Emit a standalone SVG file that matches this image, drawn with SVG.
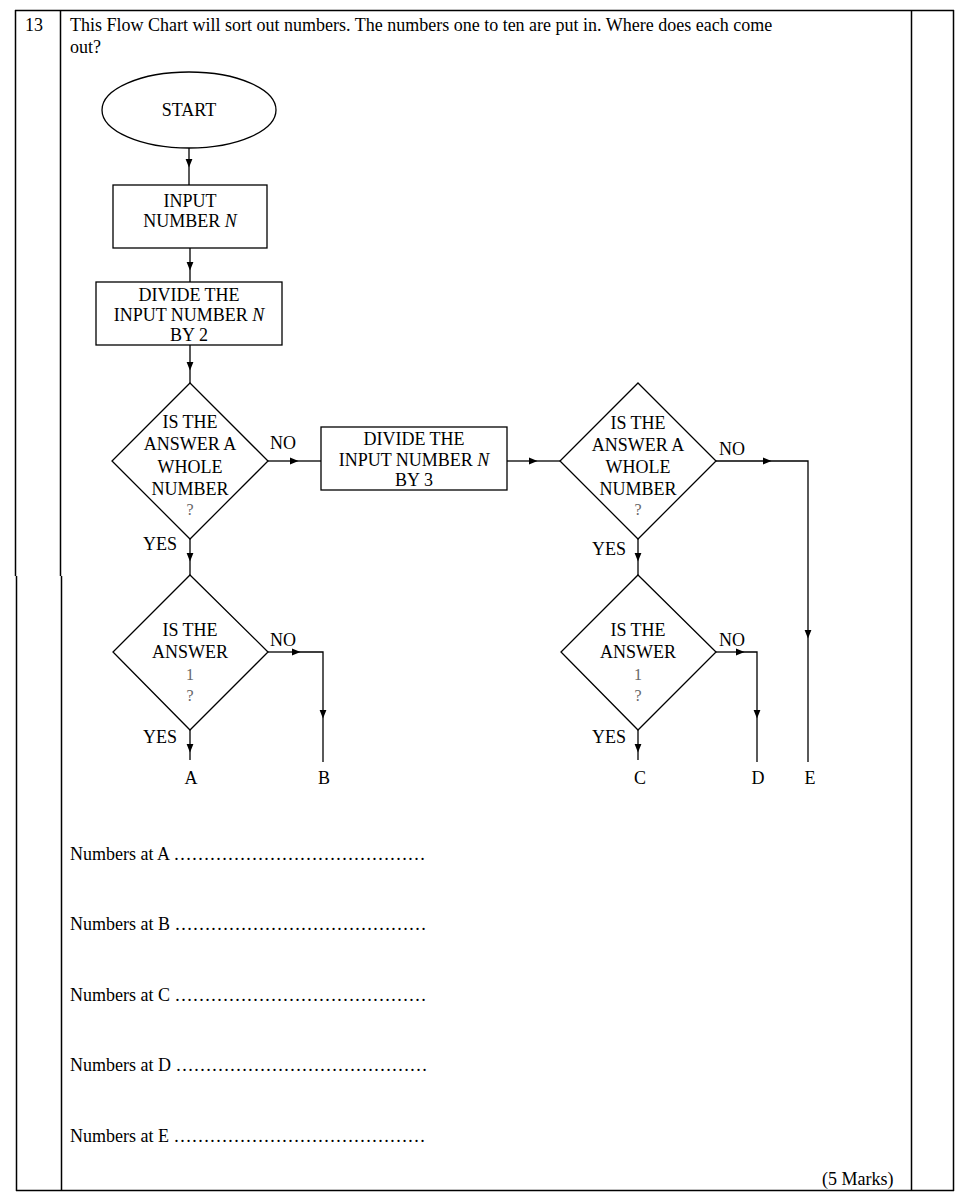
<svg xmlns="http://www.w3.org/2000/svg" width="969" height="1202" viewBox="0 0 969 1202">
<defs>
<marker id="ah" viewBox="0 0 10 10" refX="5" refY="5" markerWidth="9" markerHeight="9" markerUnits="userSpaceOnUse" orient="auto"><path d="M0,1 L10,5 L0,9 z" fill="#000"/></marker>
<style>
.t{font-family:"Liberation Serif",serif;font-size:18px;fill:#000}
.n{font-family:"Liberation Serif",serif;font-size:18px;fill:#000;text-anchor:middle}
.q{font-family:"Liberation Serif",serif;font-size:16px;fill:#666;text-anchor:middle}
.s{fill:#fff;stroke:#000;stroke-width:1.3}
.c{fill:none;stroke:#000;stroke-width:1.3}
.b{stroke:#000;stroke-width:1.5;fill:none}
</style>
</defs>
<rect width="969" height="1202" fill="#fff"/>
<g id="table">
<line class="b" x1="15" y1="10.5" x2="954" y2="10.5"/>
<line class="b" x1="16" y1="1190.5" x2="954" y2="1190.5"/>
<line class="b" x1="15.5" y1="10" x2="15.5" y2="576"/>
<line class="b" x1="16.5" y1="576" x2="16.5" y2="1191"/>
<line class="b" x1="60.5" y1="10" x2="60.5" y2="576"/>
<line class="b" x1="61.5" y1="576" x2="61.5" y2="1191"/>
<line class="b" x1="911.5" y1="10" x2="911.5" y2="1191"/>
<line class="b" x1="953.5" y1="10" x2="953.5" y2="1191"/>
</g>
<text class="t" x="25" y="31">13</text>
<text class="t" x="70" y="31">This Flow Chart will sort out numbers.  The numbers one to ten are put in. Where does each come</text>
<text class="t" x="70" y="53">out?</text>
<g id="connectors">
<polyline class="c" points="189,148 189,163" marker-end="url(#ah)"/><line class="c" x1="189" y1="163" x2="189" y2="185"/>
<polyline class="c" points="190,248 190,266" marker-end="url(#ah)"/><line class="c" x1="190" y1="266" x2="190" y2="282"/>
<polyline class="c" points="190,345 190,366" marker-end="url(#ah)"/><line class="c" x1="190" y1="366" x2="190" y2="383"/>
<polyline class="c" points="268,461 294,461" marker-end="url(#ah)"/><line class="c" x1="294" y1="461" x2="321" y2="461"/>
<polyline class="c" points="507,461 533,461" marker-end="url(#ah)"/><line class="c" x1="533" y1="461" x2="560" y2="461"/>
<polyline class="c" points="716,461 767,461" marker-end="url(#ah)"/><polyline class="c" points="767,461 808,461 808,634" marker-end="url(#ah)"/><line class="c" x1="808" y1="634" x2="808" y2="762"/>
<polyline class="c" points="190,539 190,557" marker-end="url(#ah)"/><line class="c" x1="190" y1="557" x2="190" y2="575"/>
<polyline class="c" points="638,539 638,557" marker-end="url(#ah)"/><line class="c" x1="638" y1="557" x2="638" y2="575"/>
<polyline class="c" points="268,652 296,652" marker-end="url(#ah)"/><polyline class="c" points="296,652 323,652 323,714" marker-end="url(#ah)"/><line class="c" x1="323" y1="714" x2="323" y2="762"/>
<polyline class="c" points="716,652 740,652" marker-end="url(#ah)"/><polyline class="c" points="740,652 757,652 757,714" marker-end="url(#ah)"/><line class="c" x1="757" y1="714" x2="757" y2="762"/>
<polyline class="c" points="190,730 190,748" marker-end="url(#ah)"/><line class="c" x1="190" y1="748" x2="190" y2="760"/>
<polyline class="c" points="638,730 638,748" marker-end="url(#ah)"/><line class="c" x1="638" y1="748" x2="638" y2="760"/>
</g>
<g id="start"><ellipse class="s" cx="189" cy="110" rx="87" ry="38"/><text class="n" x="189" y="116">START</text></g>
<g id="input"><rect class="s" x="113" y="185" width="154" height="63"/><text class="n" x="190" y="207">INPUT</text><text class="n" x="190" y="227">NUMBER <tspan font-style="italic">N</tspan></text></g>
<g id="div2"><rect class="s" x="96" y="282" width="186" height="63"/><text class="n" x="189" y="301">DIVIDE THE</text><text class="n" x="189" y="321">INPUT  NUMBER <tspan font-style="italic">N</tspan></text><text class="n" x="189" y="341">BY 2</text></g>
<g id="dec1"><polygon class="s" points="190,383 268,461 190,539 112,461"/><text class="n" x="190" y="428">IS THE</text><text class="n" x="190" y="450">ANSWER A</text><text class="n" x="190" y="473">WHOLE</text><text class="n" x="190" y="495">NUMBER</text><text class="q" x="190" y="515">?</text></g>
<g id="div3"><rect class="s" x="321" y="427" width="186" height="63"/><text class="n" x="414" y="445">DIVIDE THE</text><text class="n" x="414" y="466">INPUT  NUMBER <tspan font-style="italic">N</tspan></text><text class="n" x="414" y="486">BY 3</text></g>
<g id="dec2"><polygon class="s" points="638,383 716,461 638,539 560,461"/><text class="n" x="638" y="429">IS THE</text><text class="n" x="638" y="451">ANSWER A</text><text class="n" x="638" y="473">WHOLE</text><text class="n" x="638" y="495">NUMBER</text><text class="q" x="638" y="515">?</text></g>
<g id="dec3"><polygon class="s" points="190,575 268,652 190,730 113,652"/><text class="n" x="190" y="636">IS THE</text><text class="n" x="190" y="658">ANSWER</text><text class="q" x="190" y="680">1</text><text class="q" x="190" y="701">?</text></g>
<g id="dec4"><polygon class="s" points="638,575 716,652 638,730 561,652"/><text class="n" x="638" y="636">IS THE</text><text class="n" x="638" y="658">ANSWER</text><text class="q" x="638" y="680">1</text><text class="q" x="638" y="701">?</text></g>
<g id="labels">
<text class="t" x="270" y="449">NO</text><text class="t" x="719" y="455">NO</text>
<text class="t" x="143" y="550">YES</text><text class="t" x="592" y="555">YES</text>
<text class="t" x="270" y="646">NO</text><text class="t" x="719" y="646">NO</text>
<text class="t" x="143" y="743">YES</text><text class="t" x="592" y="743">YES</text>
<text class="n" x="191" y="784">A</text><text class="n" x="324" y="784">B</text><text class="n" x="640" y="784">C</text><text class="n" x="758" y="784">D</text><text class="n" x="810" y="784">E</text>
</g>
<text class="t" x="70" y="860">Numbers at A ……………………………………</text>
<text class="t" x="70" y="930">Numbers at B ……………………………………</text>
<text class="t" x="70" y="1001">Numbers at C ……………………………………</text>
<text class="t" x="70" y="1071">Numbers at D ……………………………………</text>
<text class="t" x="70" y="1142">Numbers at E ……………………………………</text>
<text class="t" x="822" y="1185">(5 Marks)</text>
</svg>
